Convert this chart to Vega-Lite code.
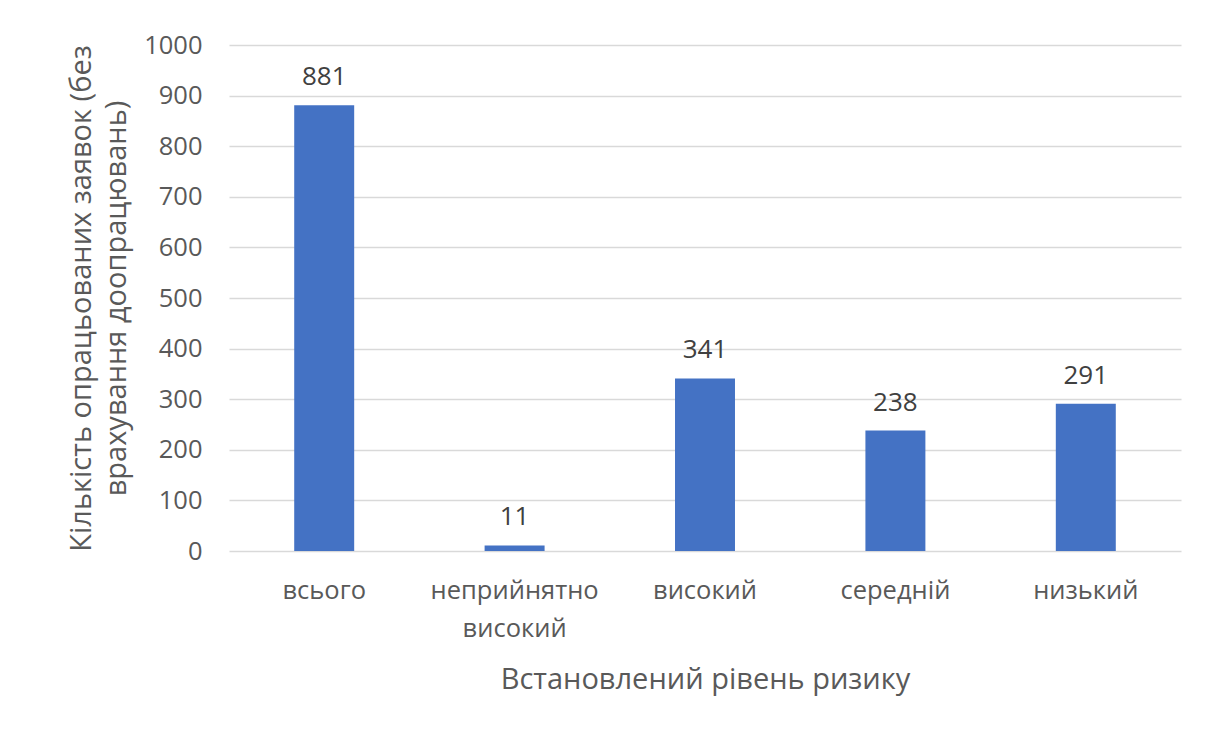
{
  "$schema": "https://vega.github.io/schema/vega-lite/v6.json",
  "autosize": {"type": "none"},
  "width": 952,
  "height": 506,
  "padding": {"left": 229, "top": 45, "right": 42, "bottom": 184},
  "background": "white",
  "data": {
    "values": [
      {"level": "всього", "count": 881},
      {"level": "неприйнятно високий", "count": 11},
      {"level": "високий", "count": 341},
      {"level": "середній", "count": 238},
      {"level": "низький", "count": 291}
    ]
  },
  "encoding": {
    "x": {
      "field": "level",
      "type": "nominal",
      "sort": null,
      "scale": {"paddingInner": 0.685, "paddingOuter": 0.3425},
      "axis": {
        "title": "Встановлений рівень ризику",
        "labelAngle": 0,
        "labelExpr": "datum.label == 'неприйнятно високий' ? ['неприйнятно', 'високий'] : datum.label",
        "labelFontSize": 25.5,
        "labelColor": "#595959",
        "labelLineHeight": 38,
        "labelPadding": 27,
        "labelBaseline": "top",
        "ticks": false,
        "domain": false,
        "titleFontSize": 29,
        "titleFontWeight": "normal",
        "titleColor": "#595959",
        "titlePadding": 24
      }
    },
    "y": {
      "field": "count",
      "type": "quantitative",
      "scale": {"domain": [0, 1000]},
      "axis": {
        "values": [0, 100, 200, 300, 400, 500, 600, 700, 800, 900, 1000],
        "format": "d",
        "title": ["Кількість опрацьованих заявок (без", "врахування доопрацювань)"],
        "labelFontSize": 25.5,
        "labelColor": "#595959",
        "labelPadding": 27,
        "ticks": false,
        "domain": false,
        "gridColor": "#d9d9d9",
        "gridWidth": 1.5,
        "titleFontSize": 29,
        "titleFontWeight": "normal",
        "titleColor": "#595959",
        "titleLineHeight": 35,
        "titlePadding": 12
      }
    }
  },
  "layer": [
    {"mark": {"type": "bar", "color": "#4472C4"}},
    {
      "mark": {"type": "text", "baseline": "bottom", "dy": -15, "fontSize": 26, "color": "#404040"},
      "encoding": {"text": {"field": "count", "type": "quantitative"}}
    }
  ],
  "config": {
    "font": "Open Sans",
    "view": {"stroke": null}
  }
}
